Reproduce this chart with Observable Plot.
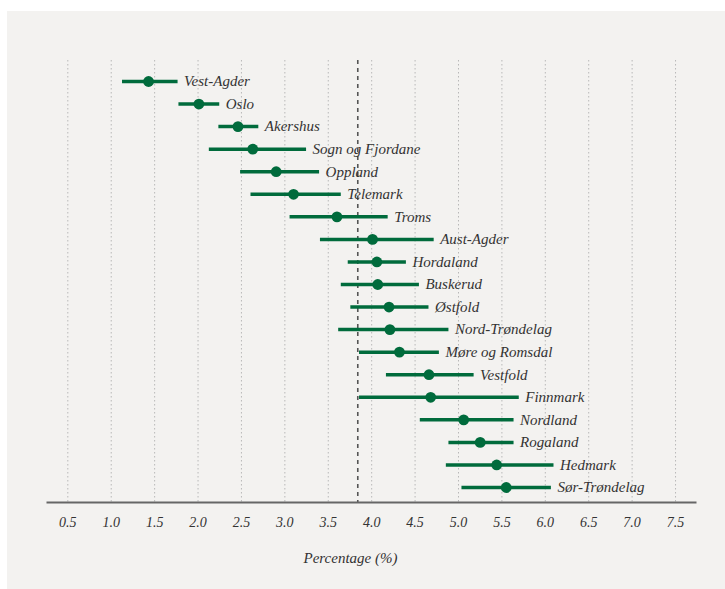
<!DOCTYPE html>
<html>
<head>
<meta charset="utf-8">
<script src="https://cdn.jsdelivr.net/npm/d3@7"></script>
<script src="https://cdn.jsdelivr.net/npm/@observablehq/plot@0.6"></script>
<style>
  html, body { margin: 0; padding: 0; background: #ffffff; }
  #panel { position: absolute; left: 7px; top: 11px; width: 718px; height: 578px; background: #f3f2f0; }
</style>
</head>
<body>
<div id="panel"></div>
<script>
const regions = ["Vest-Agder","Oslo","Akershus","Sogn og Fjordane","Oppland","Telemark","Troms","Aust-Agder","Hordaland","Buskerud","Østfold","Nord-Trøndelag","Møre og Romsdal","Vestfold","Finnmark","Nordland","Rogaland","Hedmark","Sør-Trøndelag"];
const estimates = [1.43, 2.01, 2.46, 2.63, 2.90, 3.10, 3.60, 4.01, 4.06, 4.07, 4.20, 4.21, 4.32, 4.66, 4.68, 5.06, 5.25, 5.44, 5.55];
const lows = [1.13, 1.78, 2.24, 2.13, 2.49, 2.61, 3.06, 3.41, 3.73, 3.65, 3.76, 3.62, 3.86, 4.17, 3.86, 4.56, 4.89, 4.86, 5.04];
const highs = [1.77, 2.25, 2.70, 3.25, 3.40, 3.65, 4.19, 4.72, 4.40, 4.55, 4.66, 4.89, 4.78, 5.18, 5.70, 5.64, 5.64, 6.10, 6.07];
const xTicks = [0.5, 1.0, 1.5, 2.0, 2.5, 3.0, 3.5, 4.0, 4.5, 5.0, 5.5, 6.0, 6.5, 7.0, 7.5];
const reference = 3.84;
const xLabel = "Percentage (%)";

const rows = regions.map((r, i) => ({region: r, est: estimates[i], lo: lows[i], hi: highs[i]}));
const green = "#006b3c";

const chart = Plot.plot({
  width: 718,
  height: 578,
  marginLeft: 40,
  marginRight: 30,
  marginTop: 49,
  marginBottom: 87,
  style: {background: "transparent", fontFamily: "'Liberation Serif', serif", color: "#333"},
  x: {domain: [0.266, 7.73], ticks: xTicks},
  y: {type: "point", domain: regions, range: [70, 476], padding: 0, round: false, axis: null},
  marks: [
    Plot.ruleX(xTicks, {stroke: "#b8b8b8", strokeWidth: 1, strokeDasharray: "1.5,2.5"}),
    Plot.ruleX([reference], {stroke: "#555", strokeWidth: 1.6, strokeDasharray: "4,4"}),
    Plot.frame({anchor: "bottom", stroke: "#666", strokeWidth: 2}),
    Plot.ruleY(rows, {y: "region", x1: "lo", x2: "hi", stroke: green, strokeWidth: 3.5}),
    Plot.dot(rows, {y: "region", x: "est", r: 5.4, fill: green, stroke: "none"}),
    Plot.text(rows, {y: "region", x: "hi", text: "region", dx: 6, textAnchor: "start", fontSize: 15, fontStyle: "italic", fill: "#333"}),
    Plot.axisX(xTicks, {tickSize: 0, tickPadding: 15, tickFormat: d3.format(".1f"), fontSize: 14, fontStyle: "italic", label: null}),
    Plot.text([xLabel], {frameAnchor: "bottom", dx: -21, dy: 60, fontSize: 15, fontStyle: "italic", fill: "#333"})
  ]
});
document.getElementById("panel").appendChild(chart);
</script>
</body>
</html>
